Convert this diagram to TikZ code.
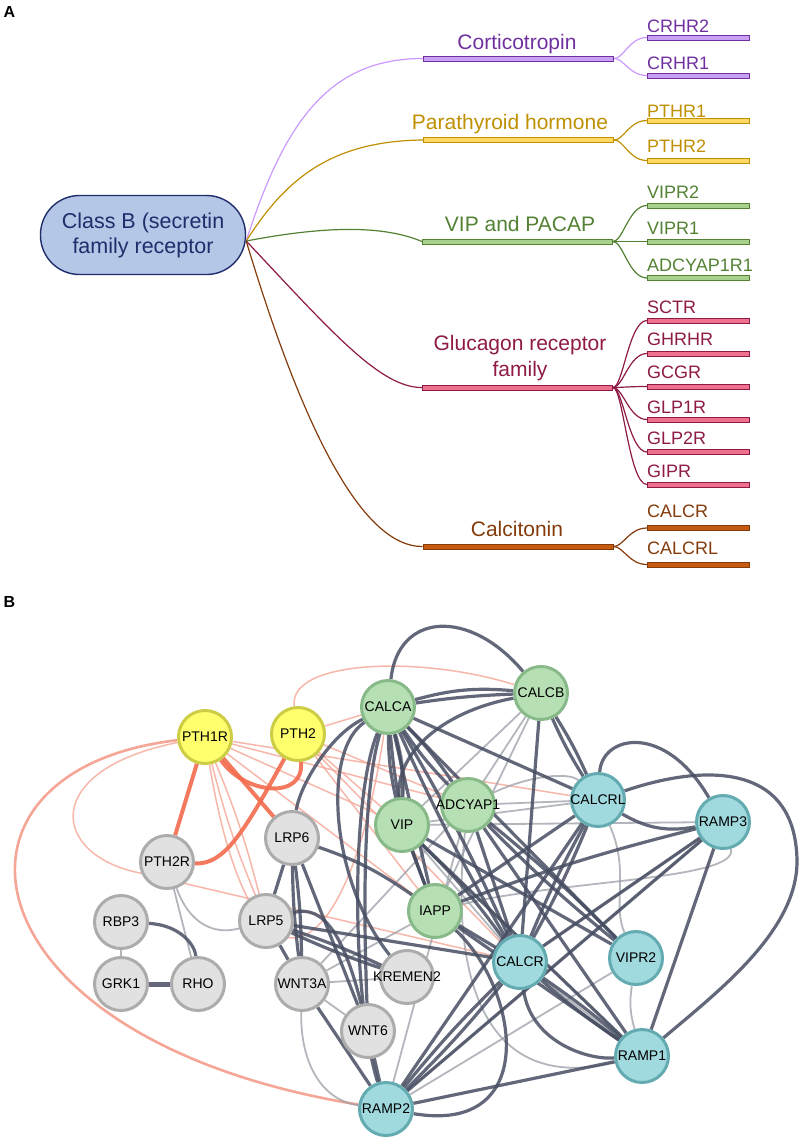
\documentclass[tikz,border=0pt]{standalone}
\usepackage{fontspec}
\setmainfont{Liberation Sans}
\usetikzlibrary{backgrounds}
\definecolor{rootf}{HTML}{B4C7E7}
\definecolor{rootd}{HTML}{1F2D6B}
\definecolor{cortd}{HTML}{7030A0}
\definecolor{cortf}{HTML}{C8A0F5}
\definecolor{cortc}{HTML}{CC99FF}
\definecolor{parad}{HTML}{BF9000}
\definecolor{paraf}{HTML}{FFD966}
\definecolor{vipd}{HTML}{548235}
\definecolor{vipf}{HTML}{A9D18E}
\definecolor{glucd}{HTML}{8E1A46}
\definecolor{glucf}{HTML}{F0708F}
\definecolor{calcd}{HTML}{843C0C}
\definecolor{calcf}{HTML}{C55A11}
\definecolor{yfill}{HTML}{FFFF6E}
\definecolor{yline}{HTML}{CDCD45}
\definecolor{gfill}{HTML}{B6DFB4}
\definecolor{gline}{HTML}{88B988}
\definecolor{cfill}{HTML}{A0DADF}
\definecolor{cline}{HTML}{64ABB1}
\definecolor{grfill}{HTML}{E1E1E1}
\definecolor{grline}{HTML}{ACACAC}
\definecolor{dkc}{HTML}{474E62}
\definecolor{gyc}{HTML}{9C9EA8}
\definecolor{slc}{HTML}{F5A696}
\definecolor{rdc}{HTML}{F26C4E}
\newcommand{\zbx}[1]{\makebox[0pt]{#1}}
\tikzset{
  panel/.style={font=\fontsize{16}{16}\selectfont\bfseries},
  rootbox/.style={draw=rootd, fill=rootf, line width=1.4pt, rounded corners=39pt,
    minimum width=205pt, minimum height=79pt, align=center, text=rootd,
    font=\fontsize{21.5}{25}\selectfont},
  blbl/.style={anchor=base, font=\fontsize{21}{24}\selectfont},
  leaflbl/.style={anchor=base west, inner sep=0pt, font=\fontsize{18}{20}\selectfont},
  bbar/.style={rectangle, inner sep=0pt, minimum width=190pt, minimum height=5pt, line width=1pt},
  lbar/.style={rectangle, inner sep=0pt, minimum width=102pt, minimum height=5pt, line width=1pt},
  conn/.style={line width=1.2pt},
  gnode/.style={circle, minimum size=53pt, inner sep=0pt, line width=3pt,
    font=\fontsize{14}{16}\selectfont, text=black},
  yel/.style={gnode, fill=yfill, draw=yline},
  grn/.style={gnode, fill=gfill, draw=gline},
  cyn/.style={gnode, fill=cfill, draw=cline},
  gry/.style={gnode, fill=grfill, draw=grline},
  dk/.style={draw=dkc, line width=3.2pt, opacity=0.85},
  gy/.style={draw=gyc, line width=1.8pt, opacity=0.75},
  sl/.style={draw=slc, line width=1.5pt, opacity=0.8},
  sm/.style={draw=slc, line width=2.6pt},
  rd/.style={draw=rdc, line width=4pt, opacity=0.9},
}
\begin{document}
\begin{tikzpicture}[x=1pt,y=-1pt]
\useasboundingbox (0,0) rectangle (800,1141);
\begin{pgfonlayer}{background}
\fill[white] (0,0) rectangle (800,1141);
\end{pgfonlayer}

% ---------------- Panel A ----------------
\node[panel] (labA) at (9.5,11.5) {A};
\node[rootbox] (root) at (143,235) {Class B (secretin\\family receptor};
\coordinate (rp) at ([yshift=-6pt]root.east);

\node[bbar, fill=cortf, draw=cortd] (cort) at (518.5,58.5) {};
\node[bbar, fill=paraf, draw=parad] (para) at (518.5,140) {};
\node[bbar, fill=vipf, draw=vipd] (vipb) at (517.5,241.5) {};
\node[bbar, fill=glucf, draw=glucd] (gluc) at (517.5,387.5) {};
\node[bbar, fill=calcf, draw=calcd] (calc) at (518,546.5) {};

\node[blbl, text=cortd] (cortt) at (517,49) {Corticotropin};
\node[blbl, text=parad] (parat) at (510,129) {Parathyroid hormone};
\node[blbl, text=vipd] (vipt) at (520,231) {VIP and PACAP};
\node[blbl, text=glucd] (gluct) at (520,350) {Glucagon receptor};
\node[blbl, text=glucd] (glucu) at (520,376) {family};
\node[blbl, text=calcd] (calct) at (517,536) {Calcitonin};

\draw[conn, draw=cortc] (rp) .. controls (285,120) and (330,58.5) .. (cort.west);
\draw[conn, draw=parad] (rp) .. controls (285,180) and (330,141) .. (para.west);
\draw[conn, draw=vipd] (rp) .. controls (330,225) and (385,226) .. (vipb.west);
\draw[conn, draw=glucd] (rp) .. controls (330,330) and (380,388) .. (gluc.west);
\draw[conn, draw=calcd] (rp) .. controls (300,420) and (360,547) .. (calc.west);

% leaves
\foreach \nm/\yy/\by/\txt/\fc/\dc/\cc/\pa in {
  crhra/37.5/32/CRHR2/cortf/cortd/cortc/cort,
  crhrb/75.5/69/CRHR1/cortf/cortd/cortc/cort,
  pthra/120.5/117/PTHR1/paraf/parad/parad/para,
  pthrb/160.5/152/PTHR2/paraf/parad/parad/para,
  vipra/205.5/198/VIPR2/vipf/vipd/vipd/vipb,
  viprb/241.5/234/VIPR1/vipf/vipd/vipd/vipb,
  adcr/278/271/ADCYAP1R1/vipf/vipd/vipd/vipb,
  sctr/320.5/313/SCTR/glucf/glucd/glucd/gluc,
  ghrhr/353.5/345/GHRHR/glucf/glucd/glucd/gluc,
  gcgr/386.5/378/GCGR/glucf/glucd/glucd/gluc,
  glpa/419.5/413/GLP1R/glucf/glucd/glucd/gluc,
  glpb/452/444/GLP2R/glucf/glucd/glucd/gluc,
  gipr/484.5/477/GIPR/glucf/glucd/glucd/gluc,
  calcra/528/517/CALCR/calcf/calcd/calcd/calc,
  calcrb/564.5/554/CALCRL/calcf/calcd/calcd/calc} {
  \node[lbar, fill=\fc, draw=\dc] (\nm) at (698.5,\yy) {};
  \node[leaflbl, text=\dc] (\nm t) at (647,\by) {\txt};
  \draw[conn, draw=\cc] (\pa.east) .. controls +(10,0) and +(-18,0) .. (\nm.west);
}

% ---------------- Panel B ----------------
\node[panel] (labB) at (9.5,601.5) {B};

\node[yel] (pthir) at (205,737) {\zbx{PTH1R}};
\node[yel] (pthii) at (298,734) {\zbx{PTH2}};
\node[grn] (calca) at (388,707) {\zbx{CALCA}};
\node[grn] (calcb) at (541,693) {\zbx{CALCB}};
\node[grn] (adcy) at (468,805) {\zbx{ADCYAP1}};
\node[grn] (vip) at (402,825) {\zbx{VIP}};
\node[grn] (iapp) at (435,911) {\zbx{IAPP}};
\node[cyn] (calcrl) at (598,800) {\zbx{CALCRL}};
\node[cyn] (ramp3) at (723,822) {\zbx{RAMP3}};
\node[cyn] (calcr) at (520,962) {\zbx{CALCR}};
\node[cyn] (vipr2) at (636,958) {\zbx{VIPR2}};
\node[cyn] (ramp1) at (642,1056) {\zbx{RAMP1}};
\node[cyn] (ramp2) at (386,1109) {\zbx{RAMP2}};
\node[gry] (lrp6) at (292,838) {\zbx{LRP6}};
\node[gry] (pth2r) at (167,862) {\zbx{PTH2R}};
\node[gry] (rbp3) at (121,922) {\zbx{RBP3}};
\node[gry] (grk1) at (121,984) {\zbx{GRK1}};
\node[gry] (rho) at (198,984) {\zbx{RHO}};
\node[gry] (lrp5) at (266,921) {\zbx{LRP5}};
\node[gry] (wnt3a) at (302,984) {\zbx{WNT3A}};
\node[gry] (wnt6) at (368,1031) {\zbx{WNT6}};
\node[gry] (krem) at (407,977) {\zbx{KREMEN2}};

\begin{pgfonlayer}{background}
% salmon thin
\draw[sl] (pthir) .. controls (40,770) and (50,855) .. (140,873) -- (calcr);
\draw[sl] (pthir) to[bend left=4] (lrp5);
\draw[sl] (pthir) to[bend right=4] (lrp5);
\draw[sl] (pthir) -- (adcy);
\draw[sl] (pthir) -- (vip);
\draw[sl] (pthir) -- (calcrl);
\draw[sl] (pthir) -- (iapp);
\draw[sl] (pthir) .. controls (250,1010) and (345,990) .. (calca);
\draw[sl] (pthii) -- (calca);
\draw[sl] (pthii) .. controls (288,660) and (420,655) .. (calcb);
\draw[sl] (pthii) -- (adcy);
\draw[sl] (pthii) -- (vip);
\draw[sl] (pthii) -- (iapp);
\draw[sl] (pthii) -- (calcr);
% salmon medium
\draw[sm] (pthir) .. controls (-80,770) and (-40,1040) .. (ramp2);
% gray
\draw[gy] (rbp3) -- (grk1);
\draw[gy] (pth2r) -- (rho);
\draw[gy] (pth2r) .. controls (190,925) and (215,935) .. (lrp5);
\draw[gy] (wnt3a) -- (wnt6);
\draw[gy] (wnt3a) -- (krem);
\draw[gy] (wnt3a) .. controls (300,1060) and (320,1100) .. (ramp2);
\draw[gy] (wnt3a) -- (adcy);
\draw[gy] (wnt3a) -- (iapp);
\draw[gy] (calca) to[bend left=10] (vip);
\draw[gy] (calcb) -- (vip);
\draw[gy] (calcb) -- (adcy);
\draw[gy] (calcb) -- (iapp);
\draw[gy] (vip) -- (ramp3);
\draw[gy] (vip) -- (calcrl);
\draw[gy] (adcy) .. controls (530,775) and (570,772) .. (calcrl);
\draw[gy] (adcy) -- (calcrl);
\draw[gy] (calcrl) .. controls (630,870) and (612,905) .. (vipr2);
\draw[gy] (ramp3) .. controls (740,880) and (560,880) .. (iapp);
\draw[gy] (calcr) -- (ramp3);
\draw[gy] (ramp2) -- (vipr2);
\draw[gy] (ramp2) -- (ramp3);
\draw[gy] (calcr) -- (ramp1);
\draw[gy] (vipr2) to[bend right=12] (ramp1);
\draw[gy] (adcy) .. controls (450,970) and (480,1095) .. (ramp1);
\draw[gy] (vip) -- (ramp1);
\draw[gy] (vip) -- (calcr);
\draw[gy] (adcy) -- (ramp2);
% dark
\draw[dk] (calca) .. controls (398,612) and (470,608) .. (calcb);
\draw[dk] (calca) to[bend left=10] (calcb);
\draw[dk] (calca) to[bend left=3] (calcb);
\draw[dk] (calcb) .. controls (440,712) and (395,755) .. (vip);
\draw[dk] (calca) to[bend left=8] (vip);
\draw[dk] (calca) to[bend right=6] (vip);
\draw[dk] (calca) to[bend left=5] (adcy);
\draw[dk] (calca) to[bend right=5] (adcy);
\draw[dk] (calca) -- (calcrl);
\draw[dk] (calca) to[bend left=3] (calcr);
\draw[dk] (calca) to[bend right=3] (calcr);
\draw[dk] (calca) -- (vipr2);
\draw[dk] (calca) -- (iapp);
\draw[dk] (calca) to[bend right=8] (iapp);
\draw[dk] (calca) .. controls (330,735) and (300,785) .. (lrp6);
\draw[dk] (calca) .. controls (350,800) and (352,1000) .. (ramp2);
\draw[dk] (calca) .. controls (360,800) and (365,950) .. (wnt6);
\draw[dk] (calca) .. controls (322,750) and (330,880) .. (krem);
\draw[dk] (vip) -- (vipr2);
\draw[dk] (vip) -- (iapp);
\draw[dk] (vip) to[bend left=5] (calcr);
\draw[dk] (vip) -- (ramp1);
\draw[dk] (adcy) to[bend left=3] (vipr2);
\draw[dk] (adcy) to[bend right=3] (vipr2);
\draw[dk] (adcy) -- (calcr);
\draw[dk] (adcy) -- (ramp1);
\draw[dk] (calcb) to[bend left=4] (calcrl);
\draw[dk] (calcb) to[bend right=4] (calcrl);
\draw[dk] (calcb) -- (calcr);
\draw[dk] (calcrl) .. controls (602,735) and (665,722) .. (ramp3);
\draw[dk] (calcrl) .. controls (700,765) and (795,760) .. (797,860) .. controls (798,930) and (720,990) .. (ramp1);
\draw[dk] (calcrl) to[bend right=20] (ramp3);
\draw[dk] (ramp3) -- (ramp1);
\draw[dk] (ramp3) -- (calcr);
\draw[dk] (ramp3) to[bend right=3] (iapp);
\draw[dk] (ramp3) -- (ramp2);
\draw[dk] (calcrl) to[bend left=3] (calcr);
\draw[dk] (calcrl) to[bend right=3] (calcr);
\draw[dk] (calcrl) -- (iapp);
\draw[dk] (calcrl) -- (ramp2);
\draw[dk] (calcr) to[bend left=3] (ramp1);
\draw[dk] (calcr) to[bend right=3] (ramp1);
\draw[dk] (calcr) .. controls (530,1040) and (585,1060) .. (ramp1);
\draw[dk] (calcr) to[bend left=3] (ramp2);
\draw[dk] (calcr) to[bend right=3] (ramp2);
\draw[dk] (calcr) -- (iapp);
\draw[dk] (iapp) .. controls (520,990) and (540,1135) .. (ramp2);
\draw[dk] (iapp) -- (ramp1);
\draw[dk] (ramp2) -- (ramp1);
\draw[dk] (ramp2) -- (wnt6);
\draw[dk] (ramp2) -- (wnt3a);
\draw[dk] (lrp6) -- (lrp5);
\draw[dk] (lrp6) to[bend left=3] (wnt3a);
\draw[dk] (lrp6) to[bend right=3] (wnt3a);
\draw[dk] (lrp6) -- (wnt6);
\draw[dk] (lrp6) to[bend left=8] (iapp);
\draw[dk] (lrp5) -- (wnt3a);
\draw[dk] (lrp5) to[bend left=3] (krem);
\draw[dk] (lrp5) to[bend right=3] (krem);
\draw[dk] (lrp5) .. controls (325,903) and (345,940) .. (wnt6);
\draw[dk] (lrp5) -- (calcr);
\draw[dk] (rbp3) .. controls (180,925) and (195,945) .. (rho);
\draw[dk, line width=5pt] (grk1) -- (rho);
% red thick
\draw[rd] (pthir) -- (pth2r);
\draw[rd] (pthir) -- (lrp6);
\draw[rd] (pthir) .. controls (245,795) and (305,800) .. (pthii);
\draw[rd] (pthii) .. controls (245,830) and (225,865) .. (pth2r);
\end{pgfonlayer}
\end{tikzpicture}
\end{document}
